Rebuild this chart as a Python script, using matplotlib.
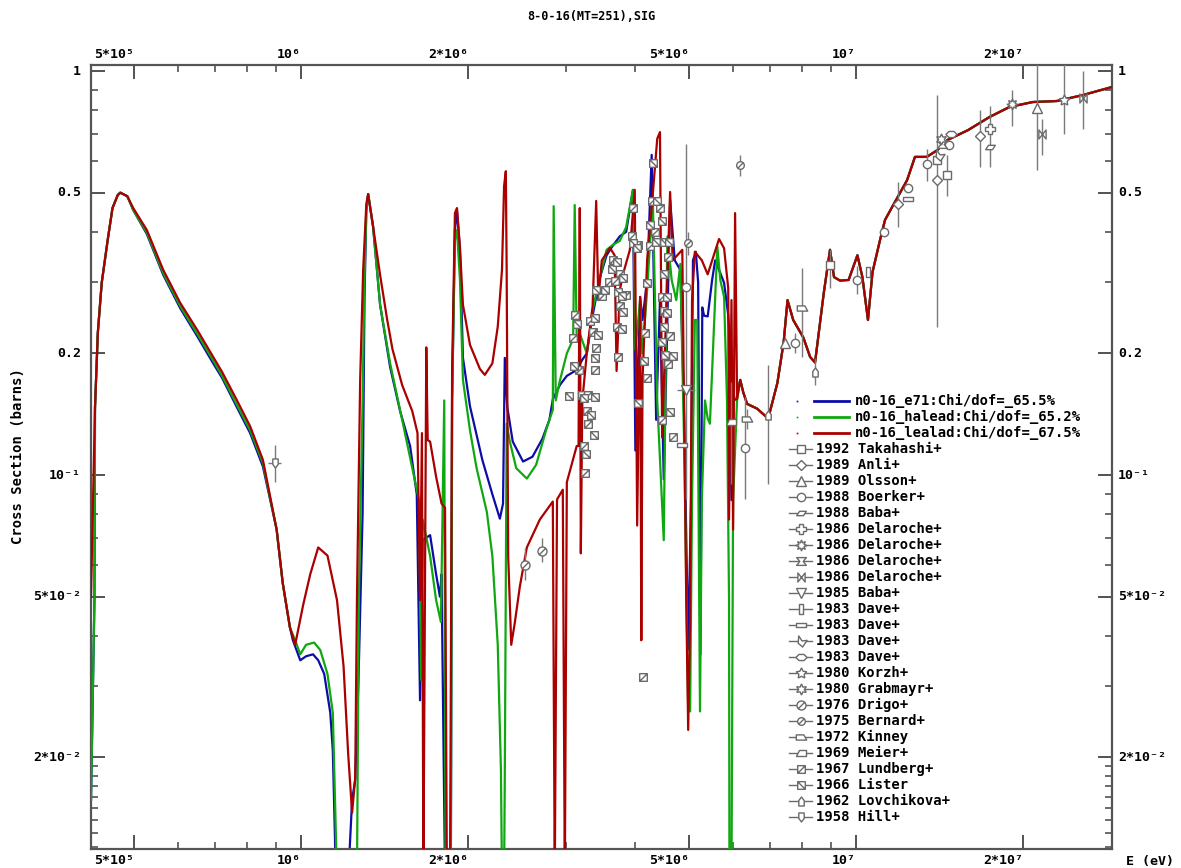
import numpy as np
import matplotlib
matplotlib.use("Agg")
import matplotlib.pyplot as plt
from matplotlib.path import Path

# ---- evaluated curves, E in MeV, sigma in barns ----
red_e = [0.418, 0.425, 0.430, 0.437, 0.448, 0.457, 0.467, 0.472, 0.486, 0.498,
         0.527, 0.564, 0.605, 0.649, 0.694, 0.720, 0.766, 0.809, 0.853, 0.903,
         0.926, 0.954, 0.975, 1.008, 1.038, 1.073, 1.115, 1.160, 1.192, 1.215,
         1.235, 1.251, 1.260, 1.277, 1.293, 1.310, 1.320, 1.347, 1.387, 1.428,
         1.460, 1.520, 1.585, 1.620, 1.637, 1.650, 1.660, 1.680, 1.690, 1.707,
         1.750, 1.790, 1.816, 1.830, 1.854, 1.870, 1.892, 1.908, 1.932, 1.956,
         2.014, 2.099, 2.142, 2.210, 2.260, 2.300, 2.320, 2.337, 2.345, 2.360,
         2.390, 2.425, 2.477, 2.550, 2.691, 2.840, 2.863, 2.890, 2.960, 2.985,
         3.010, 3.136, 3.160, 3.176, 3.190, 3.210, 3.270, 3.350, 3.400, 3.430,
         3.480, 3.600, 3.670, 3.700, 3.750, 3.800, 3.910, 3.990, 4.030, 4.080,
         4.100, 4.120, 4.200, 4.300, 4.380, 4.430, 4.470, 4.570, 4.620, 4.670,
         4.760, 4.860, 4.940, 4.980, 5.020, 5.060, 5.120, 5.270, 5.400, 5.540,
         5.660, 5.780, 5.880, 5.900, 5.960, 6.000, 6.050, 6.100, 6.180, 6.260,
         6.360, 6.630, 6.940, 7.210, 7.400, 7.520, 7.700, 8.030, 8.260, 8.430,
         8.740, 8.970, 9.120, 9.350, 9.690, 10.05, 10.26, 10.50, 10.70, 11.04,
         11.27, 11.60, 12.00, 12.35, 12.76, 13.40, 14.00, 14.60, 15.90, 17.40,
         18.90, 20.80, 23.00, 25.60, 28.90]
red_s = [0.050, 0.147, 0.225, 0.299, 0.382, 0.458, 0.493, 0.500, 0.490, 0.458,
         0.404, 0.322, 0.267, 0.229, 0.196, 0.180, 0.153, 0.132, 0.109, 0.0733,
         0.0541, 0.0420, 0.0380, 0.0477, 0.0568, 0.0662, 0.0632, 0.0490, 0.0336, 0.0204,
         0.0146, 0.0178, 0.0490, 0.172, 0.322, 0.469, 0.496, 0.413, 0.313, 0.243,
         0.205, 0.167, 0.144, 0.127, 0.049, 0.127, 0.010, 0.207, 0.122, 0.121,
         0.099, 0.085, 0.083, 0.010, 0.010, 0.181, 0.445, 0.458, 0.365, 0.264,
         0.210, 0.183, 0.177, 0.189, 0.233, 0.322, 0.519, 0.565, 0.322, 0.063,
         0.038, 0.043, 0.053, 0.0662, 0.0776, 0.086, 0.010, 0.087, 0.092, 0.010,
         0.096, 0.118, 0.118, 0.458, 0.064, 0.153, 0.200, 0.262, 0.477, 0.271,
         0.340, 0.365, 0.350, 0.181, 0.287, 0.314, 0.361, 0.508, 0.075, 0.276,
         0.039, 0.171, 0.340, 0.496, 0.680, 0.706, 0.124, 0.314, 0.502, 0.340,
         0.350, 0.361, 0.049, 0.0234, 0.0438, 0.271, 0.357, 0.340, 0.314, 0.350,
         0.384, 0.364, 0.290, 0.0776, 0.271, 0.0733, 0.445, 0.154, 0.172, 0.160,
         0.150, 0.146, 0.138, 0.169, 0.213, 0.271, 0.242, 0.219, 0.196, 0.190,
         0.282, 0.361, 0.309, 0.303, 0.304, 0.350, 0.309, 0.242, 0.318, 0.382,
         0.428, 0.460, 0.500, 0.537, 0.613, 0.613, 0.637, 0.675, 0.714, 0.770,
         0.815, 0.838, 0.843, 0.872, 0.913]

blue_e = [0.418, 0.424, 0.425, 0.430, 0.437, 0.448, 0.457, 0.467, 0.472, 0.486,
          0.498, 0.527, 0.564, 0.605, 0.649, 0.694, 0.720, 0.766, 0.809, 0.853,
          0.903, 0.926, 0.954, 0.966, 0.996, 1.020, 1.050, 1.073, 1.100, 1.128,
          1.140, 1.155, 1.215, 1.235, 1.251, 1.268, 1.290, 1.300, 1.310, 1.320,
          1.347, 1.387, 1.446, 1.507, 1.571, 1.615, 1.637, 1.655, 1.707, 1.750,
          1.778, 1.790, 1.816, 1.860, 1.870, 1.892, 1.908, 1.932, 1.956, 2.014,
          2.120, 2.210, 2.280, 2.310, 2.327, 2.337, 2.350, 2.405, 2.510, 2.610,
          2.720, 2.800, 2.840, 2.924, 3.010, 3.136, 3.210, 3.270, 3.350, 3.450,
          3.550, 3.640, 3.750, 3.850, 3.960, 4.000, 4.080, 4.120, 4.200, 4.280,
          4.360, 4.430, 4.500, 4.620, 4.710, 4.820, 4.900, 4.980, 5.040, 5.080,
          5.140, 5.190, 5.240, 5.280, 5.320, 5.400, 5.500, 5.570, 5.660, 5.780,
          5.880, 5.900, 5.930, 5.960, 6.000, 6.080]
blue_s = [0.0157, 0.049, 0.147, 0.225, 0.299, 0.382, 0.458, 0.493, 0.500, 0.490,
          0.453, 0.395, 0.313, 0.259, 0.221, 0.189, 0.174, 0.147, 0.127, 0.105,
          0.0733, 0.0541, 0.0420, 0.0390, 0.0348, 0.0356, 0.0360, 0.0348, 0.0322, 0.0258,
          0.0208, 0.010, 0.010, 0.0157, 0.0176, 0.0310, 0.0806, 0.271, 0.453, 0.496,
          0.413, 0.264, 0.185, 0.144, 0.118, 0.0896, 0.0277, 0.069, 0.071, 0.0568,
          0.050, 0.0568, 0.010, 0.010, 0.153, 0.404, 0.453, 0.361, 0.195, 0.148,
          0.109, 0.0896, 0.078, 0.085, 0.195, 0.172, 0.148, 0.121, 0.108, 0.111,
          0.123, 0.137, 0.154, 0.167, 0.176, 0.182, 0.193, 0.200, 0.248, 0.307,
          0.350, 0.369, 0.390, 0.400, 0.508, 0.115, 0.276, 0.242, 0.304, 0.620,
          0.137, 0.271, 0.0976, 0.480, 0.340, 0.322, 0.137, 0.037, 0.0867, 0.340,
          0.357, 0.300, 0.036, 0.260, 0.248, 0.247, 0.304, 0.340, 0.322, 0.299,
          0.249, 0.229, 0.138, 0.0867, 0.153, 0.154]

green_e = [0.418, 0.424, 0.425, 0.430, 0.437, 0.448, 0.457, 0.467, 0.472, 0.486,
           0.498, 0.527, 0.564, 0.605, 0.649, 0.694, 0.720, 0.766, 0.809, 0.853,
           0.903, 0.926, 0.954, 0.975, 0.996, 1.020, 1.055, 1.082, 1.115, 1.140,
           1.151, 1.160, 1.260, 1.270, 1.290, 1.300, 1.310, 1.320, 1.347, 1.387,
           1.446, 1.520, 1.585, 1.630, 1.645, 1.655, 1.707, 1.750, 1.785, 1.810,
           1.820, 1.860, 1.870, 1.892, 1.908, 1.932, 1.956, 2.014, 2.070, 2.160,
           2.210, 2.260, 2.290, 2.300, 2.320, 2.327, 2.345, 2.376, 2.440, 2.550,
           2.650, 2.770, 2.840, 2.850, 2.875, 2.924, 3.010, 3.090, 3.110, 3.136,
           3.176, 3.270, 3.350, 3.450, 3.550, 3.640, 3.750, 3.850, 3.960, 4.000,
           4.080, 4.120, 4.200, 4.300, 4.380, 4.500, 4.550, 4.570, 4.650, 4.740,
           4.820, 4.900, 4.980, 5.020, 5.060, 5.120, 5.170, 5.230, 5.270, 5.340,
           5.400, 5.450, 5.540, 5.620, 5.690, 5.780, 5.850, 5.900, 5.910, 5.960,
           6.000, 6.100]
green_s = [0.0157, 0.049, 0.147, 0.225, 0.299, 0.382, 0.458, 0.493, 0.500, 0.490,
           0.453, 0.398, 0.316, 0.262, 0.224, 0.192, 0.176, 0.149, 0.129, 0.107,
           0.0733, 0.0541, 0.0420, 0.039, 0.036, 0.038, 0.0385, 0.0369, 0.0322, 0.0258,
           0.0152, 0.010, 0.010, 0.049, 0.153, 0.304, 0.453, 0.496, 0.413, 0.264,
           0.189, 0.137, 0.104, 0.0867, 0.0311, 0.0776, 0.063, 0.049, 0.0433, 0.153,
           0.010, 0.010, 0.153, 0.382, 0.404, 0.304, 0.172, 0.129, 0.104, 0.081,
           0.063, 0.038, 0.0186, 0.010, 0.010, 0.018, 0.134, 0.121, 0.104, 0.098,
           0.106, 0.131, 0.145, 0.463, 0.153, 0.171, 0.200, 0.217, 0.466, 0.220,
           0.224, 0.200, 0.256, 0.307, 0.361, 0.371, 0.380, 0.411, 0.508, 0.204,
           0.271, 0.200, 0.287, 0.482, 0.153, 0.069, 0.271, 0.390, 0.304, 0.271,
           0.333, 0.115, 0.0264, 0.026, 0.0867, 0.242, 0.242, 0.026, 0.0867, 0.153,
           0.138, 0.134, 0.229, 0.368, 0.304, 0.276, 0.153, 0.049, 0.010, 0.010,
           0.0867, 0.154]

curve_labels = ["n0-16_e71:Chi/dof=_65.5%", "n0-16_halead:Chi/dof=_65.2%",
                "n0-16_lealad:Chi/dof=_67.5%"]

# ---- experimental data: E (MeV), sigma, lower bound, upper bound ----
takahashi_e = [8.97, 14.0, 14.6]
takahashi_s = [0.331, 0.602, 0.553]
takahashi_lo = [0.29, 0.232, 0.49]
takahashi_hi = [0.36, 0.872, 0.62]

anli_e = [11.9, 16.7, 14.0]
anli_s = [0.47, 0.69, 0.537]
anli_lo = [0.41, 0.58, 0.537]
anli_hi = [0.53, 0.80, 0.537]

olsson_e = [21.2, 7.44]
olsson_s = [0.81, 0.212]
olsson_lo = [0.57, 0.212]
olsson_hi = [1.10, 0.212]

boerker_e = [4.94, 6.31, 7.76, 10.05, 11.2, 12.4, 13.4, 14.7]
boerker_s = [0.292, 0.117, 0.212, 0.304, 0.40, 0.513, 0.589, 0.656]
boerker_lo = [0.087, 0.087, 0.20, 0.28, 0.40, 0.513, 0.535, 0.656]
boerker_hi = [0.66, 0.156, 0.225, 0.33, 0.40, 0.513, 0.64, 0.656]

baba88_e = [17.4]
baba88_s = [0.65]
delaroche1_e = [17.4]
delaroche1_s = [0.72]
delaroche1_lo = [0.58]
delaroche1_hi = [0.82]
delaroche2_e = [19.1]
delaroche2_s = [0.83]
delaroche2_lo = [0.73]
delaroche2_hi = [0.90]
delaroche3_e = [14.3]
delaroche3_s = [0.66]
delaroche4_e = [21.6, 25.6]
delaroche4_s = [0.70, 0.86]
delaroche4_lo = [0.62, 0.72]
delaroche4_hi = [0.76, 1.0]
baba85_e = [4.94]
baba85_s = [0.162]
baba85_elo = [4.76]
baba85_ehi = [5.12]
dave1_e = [10.5]
dave1_s = [0.318]
dave2_e = [12.4, 4.86]
dave2_s = [0.482, 0.119]
dave3_e = [14.1]
dave3_s = [0.62]
dave4_e = [14.8]
dave4_s = [0.70]
korzh_e = [23.7]
korzh_s = [0.85]
korzh_lo = [0.70]
korzh_hi = [1.1]
grabmayr_e = [14.2]
grabmayr_s = [0.68]
drigo_e = [2.53, 2.72]
drigo_s = [0.060, 0.065]
drigo_lo = [0.055, 0.061]
drigo_hi = [0.066, 0.070]
bernard_e = [6.18, 4.98]
bernard_s = [0.585, 0.375]
bernard_lo = [0.55, 0.35]
bernard_hi = [0.62, 0.40]
kinney_e = [8.0, 6.36]
kinney_s = [0.259, 0.138]
kinney_lo = [0.196, 0.13]
kinney_hi = [0.326, 0.146]
meier_e = [5.96]
meier_s = [0.135]
meier_lo = [0.095]
meier_hi = [0.17]
lundberg_e = [3.111, 3.085, 3.163, 3.203, 3.311, 3.352, 3.40, 3.38, 3.284, 3.27,
              3.284, 3.23, 3.243, 3.478, 3.585, 3.64, 3.75, 3.67, 3.75, 3.85,
              3.70, 3.72, 3.94, 3.96, 4.05, 4.16, 4.20, 4.13, 4.28, 4.43,
              4.34, 4.25, 4.50, 4.58, 4.47, 4.50, 4.62, 4.58, 4.47, 4.67]
lundberg_s = [0.249, 0.219, 0.182, 0.158, 0.241, 0.226, 0.206, 0.182, 0.158, 0.144,
              0.134, 0.118, 0.101, 0.278, 0.300, 0.340, 0.314, 0.302, 0.262, 0.279,
              0.232, 0.196, 0.390, 0.458, 0.371, 0.225, 0.174, 0.0316, 0.477, 0.458,
              0.400, 0.369, 0.377, 0.346, 0.276, 0.254, 0.221, 0.188, 0.137, 0.124]
lister_e = [3.136, 3.10, 3.035, 3.23, 3.38, 3.42, 3.38, 3.38, 3.325, 3.366,
            3.256, 3.40, 3.52, 3.63, 3.70, 3.80, 3.72, 3.78, 3.80, 3.78,
            3.96, 4.03, 4.20, 4.15, 4.05, 4.30, 4.38, 4.47, 4.25, 4.36,
            4.50, 4.60, 4.50, 4.47, 4.57, 4.57, 4.52, 4.67, 4.62, 4.50]
lister_s = [0.236, 0.186, 0.157, 0.155, 0.245, 0.222, 0.195, 0.156, 0.141, 0.126,
            0.113, 0.287, 0.287, 0.324, 0.337, 0.307, 0.284, 0.278, 0.253, 0.230,
            0.375, 0.364, 0.299, 0.192, 0.151, 0.592, 0.477, 0.425, 0.416, 0.377,
            0.377, 0.377, 0.314, 0.214, 0.276, 0.252, 0.198, 0.197, 0.143, 0.232]
lovchikova_e = [6.94, 8.43]
lovchikova_s = [0.141, 0.18]
lovchikova_lo = [0.095, 0.167]
lovchikova_hi = [0.187, 0.195]
hill_e = [0.896]
hill_s = [0.107]
hill_lo = [0.096]
hill_hi = [0.119]
hill_elo = [0.87]
hill_ehi = [0.92]

# ---- marker shapes ----
M, L, CL = Path.MOVETO, Path.LINETO, Path.CLOSEPOLY


def poly(pts):
    return Path(pts + [pts[0]], [M] + [L] * (len(pts) - 1) + [CL])


def with_line(base, a, b):
    return Path.make_compound_path(base, Path([a, b], [M, L]))


square = [(-1, -1), (1, -1), (1, 1), (-1, 1)]
mk_box_slash = with_line(poly(square), (-0.8, -0.8), (0.8, 0.8))
mk_box_back = with_line(poly(square), (-0.8, 0.8), (0.8, -0.8))
mk_circ_slash = with_line(Path.unit_circle(), (-0.7, -0.7), (0.7, 0.7))
mk_parallel = poly([(-1, -0.45), (0.4, -0.45), (1, 0.45), (-0.4, 0.45)])
mk_hourglass = poly([(-1, 0.8), (1, 0.8), (0.35, 0), (1, -0.8), (-1, -0.8), (-0.35, 0)])
mk_bowtie = poly([(-0.8, -1), (-0.8, 1), (0.8, -1), (0.8, 1)])
mk_vrect = poly([(-0.35, -1), (0.35, -1), (0.35, 1), (-0.35, 1)])
mk_hrect = poly([(-1, -0.35), (1, -0.35), (1, 0.35), (-1, 0.35)])
mk_bent = poly([(-0.5, 1), (0.1, 0.1), (1, 0.2), (0.2, -1), (-0.6, -0.3)])
mk_hexflat = poly([(-1, 0), (-0.45, 0.55), (0.45, 0.55), (1, 0), (0.45, -0.55), (-0.45, -0.55)])
mk_flag_r = poly([(-1, -0.5), (1, -0.5), (0.45, 0.5), (-1, 0.5)])
mk_flag_l = poly([(-1, -0.5), (1, -0.5), (1, 0.5), (-0.45, 0.5)])
mk_house_up = poly([(-0.6, -1), (0.6, -1), (0.6, 0.2), (0, 1), (-0.6, 0.2)])
mk_house_dn = poly([(-0.6, 1), (0.6, 1), (0.6, -0.2), (0, -1), (-0.6, -0.2)])

# label, marker, size, e, s, lo, hi
datasets = [
    ("1992 Takahashi+", "s", 6, takahashi_e, takahashi_s, takahashi_lo, takahashi_hi),
    ("1989 Anli+", "D", 5.5, anli_e, anli_s, anli_lo, anli_hi),
    ("1989 Olsson+", "^", 6.5, olsson_e, olsson_s, olsson_lo, olsson_hi),
    ("1988 Boerker+", "o", 6, boerker_e, boerker_s, boerker_lo, boerker_hi),
    ("1988 Baba+", mk_parallel, 7, baba88_e, baba88_s, None, None),
    ("1986 Delaroche+", "P", 6.5, delaroche1_e, delaroche1_s, delaroche1_lo, delaroche1_hi),
    ("1986 Delaroche+", (8, 1, 0), 8, delaroche2_e, delaroche2_s, delaroche2_lo, delaroche2_hi),
    ("1986 Delaroche+", mk_hourglass, 7, delaroche3_e, delaroche3_s, None, None),
    ("1986 Delaroche+", mk_bowtie, 6.5, delaroche4_e, delaroche4_s, delaroche4_lo, delaroche4_hi),
    ("1985 Baba+", "v", 6.5, baba85_e, baba85_s, None, None),
    ("1983 Dave+", mk_vrect, 7, dave1_e, dave1_s, None, None),
    ("1983 Dave+", mk_hrect, 7, dave2_e, dave2_s, None, None),
    ("1983 Dave+", mk_bent, 8, dave3_e, dave3_s, None, None),
    ("1983 Dave+", mk_hexflat, 8, dave4_e, dave4_s, None, None),
    ("1980 Korzh+", (5, 1, 0), 8, korzh_e, korzh_s, korzh_lo, korzh_hi),
    ("1980 Grabmayr+", (6, 1, 0), 8, grabmayr_e, grabmayr_s, None, None),
    ("1976 Drigo+", mk_circ_slash, 6.5, drigo_e, drigo_s, drigo_lo, drigo_hi),
    ("1975 Bernard+", mk_circ_slash, 5.5, bernard_e, bernard_s, bernard_lo, bernard_hi),
    ("1972 Kinney", mk_flag_r, 7.5, kinney_e, kinney_s, kinney_lo, kinney_hi),
    ("1969 Meier+", mk_flag_l, 7.5, meier_e, meier_s, meier_lo, meier_hi),
    ("1967 Lundberg+", mk_box_slash, 5.5, lundberg_e, lundberg_s, None, None),
    ("1966 Lister", mk_box_back, 5.5, lister_e, lister_s, None, None),
    ("1962 Lovchikova+", mk_house_up, 6.5, lovchikova_e, lovchikova_s, lovchikova_lo, lovchikova_hi),
    ("1958 Hill+", mk_house_dn, 6.5, hill_e, hill_s, hill_lo, hill_hi),
]

colors = ["#0c0ca8", "#10a810", "#aa0000"]
gray = "#6a6a6a"
mono = "DejaVu Sans Mono"

W, H = 1181, 868
fig = plt.figure(figsize=(W / 100, H / 100), dpi=100)
ax = fig.add_axes([91 / W, 19 / H, 1021 / W, 784 / H])
ax.set_xscale("log")
ax.set_yscale("log")
ax.set_xlim(4.18e5, 2.89e7)
ax.set_ylim(0.01187, 1.035)

# curves: blue and green continue under the red one above 6.1 MeV
red_e_a = np.array(red_e)
red_s_a = np.array(red_s)
tail = red_e_a > 6.15
curves = [
    (np.concatenate([blue_e, red_e_a[tail]]), np.concatenate([blue_s, red_s_a[tail]])),
    (np.concatenate([green_e, red_e_a[tail]]), np.concatenate([green_s, red_s_a[tail]])),
    (red_e_a, red_s_a),
]
for i, (e, s) in enumerate(curves):
    ax.plot(np.array(e) * 1e6, s, color=colors[i], lw=1.6, zorder=2 + i)

# experimental points
for label, mk, ms, e, s, lo, hi in datasets:
    e = np.array(e) * 1e6
    s = np.array(s)
    if lo is not None:
        yerr = [s - np.array(lo), np.array(hi) - s]
        ax.errorbar(e, s, yerr=yerr, fmt="none", ecolor="#7a7a7a", elinewidth=1.0,
                    capsize=0, zorder=6)
    ax.plot(e, s, linestyle="none", marker=mk, ms=ms, mfc="white", mec=gray,
            mew=1.0, zorder=7)

# horizontal energy bars
for e0, s0, elo, ehi in [(hill_e, hill_s, hill_elo, hill_ehi),
                         (baba85_e, baba85_s, baba85_elo, baba85_ehi)]:
    e0 = np.array(e0)
    ax.errorbar(e0 * 1e6, s0,
                xerr=[(e0 - np.array(elo)) * 1e6, (np.array(ehi) - e0) * 1e6],
                fmt="none", ecolor="#7a7a7a", elinewidth=1.0, capsize=0, zorder=6)

# ---- axes, ticks ----
xmajor = [5e5, 1e6, 2e6, 5e6, 1e7, 2e7]
xlabels = ["5*10⁵", "10⁶", "2*10⁶", "5*10⁶", "10⁷", "2*10⁷"]
xminor = [6e5, 7e5, 8e5, 9e5, 3e6, 4e6, 6e6, 7e6, 8e6, 9e6]
ymajor = [1.0, 0.5, 0.2, 0.1, 0.05, 0.02]
ylabels = ["1", "0.5", "0.2", "10⁻¹", "5*10⁻²", "2*10⁻²"]
yminor = [0.9, 0.8, 0.7, 0.6, 0.4, 0.3, 0.09, 0.08, 0.07, 0.06, 0.04, 0.03, 0.019,
          0.018, 0.017, 0.016, 0.015, 0.014, 0.013, 0.012]

ax.set_xticks(xmajor)
ax.set_xticks(xminor, minor=True)
ax.set_yticks(ymajor)
ax.set_yticks(yminor, minor=True)
ax.tick_params(which="both", direction="in", top=True, right=True, color="#444444",
               labelbottom=False, labelleft=False, labeltop=False, labelright=False)
ax.tick_params(which="major", length=10, width=1.3)
ax.tick_params(which="minor", length=5, width=1.1)
for sp in ax.spines.values():
    sp.set_color("#555555")
    sp.set_linewidth(1.6)

tfont = dict(family=mono, weight="bold", size=9.5, color="black")
xt = ax.get_xaxis_transform()
yt = ax.get_yaxis_transform()
for v, lab in zip(xmajor, xlabels):
    ax.text(v, 1 + 10 / 784, lab, transform=xt, ha="right", va="center", **tfont)
    ax.text(v, -12 / 784, lab, transform=xt, ha="right", va="center", **tfont)
for v, lab in zip(ymajor, ylabels):
    ax.text(-10 / 1021, v, lab, transform=yt, ha="right", va="center", **tfont)
    ax.text(1 + 6 / 1021, v, lab, transform=yt, ha="left", va="center", **tfont)

fig.text(591 / W, 1 - 16 / H, "8-0-16(MT=251),SIG", ha="center", va="center",
         family=mono, weight="bold", size=8.5)
fig.text(18 / W, 1 - 456 / H, "Cross Section (barns)", rotation=90, ha="center",
         va="center", family=mono, weight="bold", size=10)
fig.text(1150 / W, 1 - 862 / H, "E (eV)", ha="center", va="center",
         family=mono, weight="bold", size=9.5)

# ---- legend drawn in pixel space ----
ov = fig.add_axes([0, 0, 1, 1])
ov.set_xlim(0, W)
ov.set_ylim(H, 0)
ov.axis("off")
ov.patch.set_alpha(0)
lfont = dict(family=mono, weight="bold", size=10, color="black")
row0, drow = 401, 16
for i, lab in enumerate(curve_labels):
    y = row0 + drow * i
    ov.plot([797], [y], marker="s", ms=1.2, color=colors[i], mew=0)
    ov.plot([814, 849], [y, y], color=colors[i], lw=2.0)
    ov.text(855, y, lab, ha="left", va="center", **lfont)
for j, (label, mk, ms, *_rest) in enumerate(datasets):
    y = row0 + drow * (j + 3)
    ov.plot([789, 812], [y, y], color=gray, lw=1.0)
    ov.plot([801], [y], marker=mk, ms=ms, mfc="white", mec=gray, mew=1.0,
            linestyle="none")
    ov.text(816, y, label, ha="left", va="center", **lfont)

fig.savefig("out.png", dpi=100)
